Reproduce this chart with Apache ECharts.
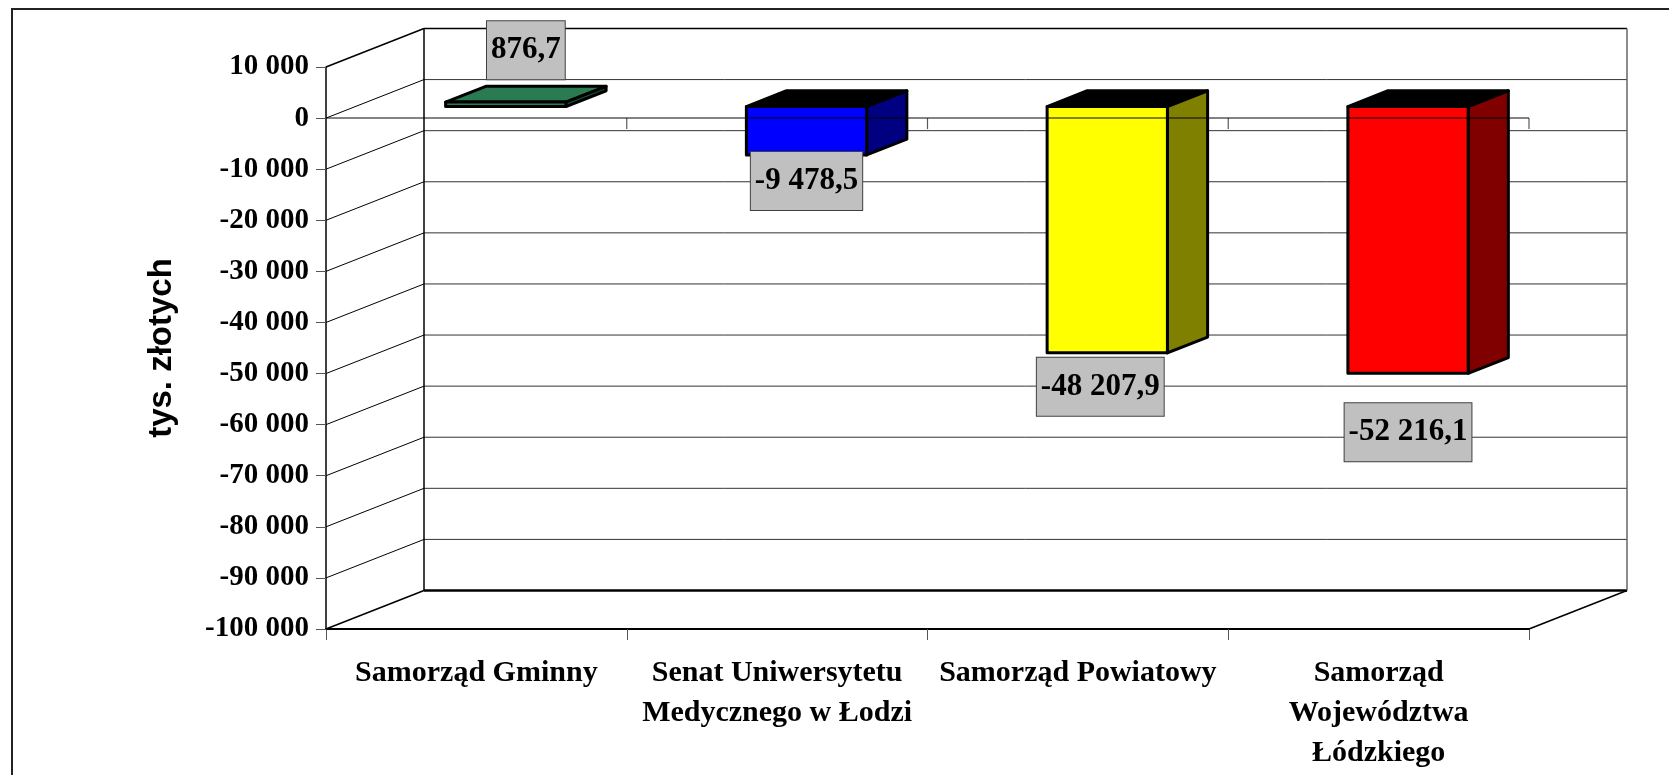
<!DOCTYPE html>
<html>
<head>
<meta charset="utf-8">
<script src="https://cdn.jsdelivr.net/npm/echarts@6/dist/echarts.min.js"></script>
<style>
html,body{margin:0;padding:0;background:#fff;}
#chart{width:1669px;height:775px;}
</style>
</head>
<body>
<div id="chart"></div>
<script>
// ---- data ----
const categories = ['Samorząd Gminny', 'Senat Uniwersytetu\nMedycznego w Łodzi', 'Samorząd Powiatowy', 'Samorząd\nWojewództwa\nŁódzkiego'];
const values = [876.7, -9478.5, -48207.9, -52216.1];
const yMin = -100000;
const yMax = 10000;
const yStep = 10000;
const axisName = 'tys. złotych';

// ---- styles ----
const frontColors = ['#2a7a52', '#0000ff', '#ffff00', '#ff0000'];
const sideColors = ['#1b5236', '#000080', '#808000', '#800000'];
const topColors = ['#2a7a52', '#000000', '#000000', '#000000'];
const labelShift = [[0, -7], [0, -3], [-7, 5], [0, 30]];
const DX = 98, DY = -38.5;      // oblique depth vector of the 3D box
const D1 = 0.3, D2 = 0.71;       // bar depth range (fraction of depth)
const serif = '"Liberation Serif", "Times New Roman", serif';

function groupInt(n) {
  return String(n).replace(/\B(?=(\d{3})+(?!\d))/g, ' ');
}
function fmtTick(v) {
  const s = v < 0 ? '-' : '';
  return s + groupInt(Math.abs(Math.round(v)));
}
function fmtVal(v) {
  const s = v < 0 ? '-' : '';
  const parts = Math.abs(v).toFixed(1).split('.');
  return s + groupInt(parts[0]) + ',' + parts[1];
}

const chart = echarts.init(document.getElementById('chart'));

function wallsRender(params, api) {
  const bw = api.size([1, 0])[0];
  const n = categories.length;
  const xL = api.coord([0, 0])[0] - bw / 2;
  const xR = api.coord([n - 1, 0])[0] + bw / 2;
  const yTop = api.coord([0, yMax])[1];
  const yBot = api.coord([0, yMin])[1];
  const children = [];
  const line = (x1, y1, x2, y2, c, w) => children.push({
    type: 'line', shape: {x1, y1, x2, y2}, style: {stroke: c, lineWidth: w}
  });
  for (let v = yMin; v <= yMax + 1e-6; v += yStep) {
    const yF = api.coord([0, v])[1];
    const edge = (v === yMin || v === yMax);
    line(xL + DX, yF + DY, xR + DX, yF + DY, edge ? '#000' : '#333', edge ? (v === yMin ? 2.5 : 1.5) : 1);
    line(xL, yF, xL + DX, yF + DY, '#000', edge ? 1.5 : 1);
  }
  // back wall edges
  line(xL + DX, yTop + DY, xL + DX, yBot + DY, '#000', 1.5);
  line(xR + DX, yTop + DY, xR + DX, yBot + DY, '#666', 1.5);
  // floor right slant
  line(xR, yBot, xR + DX, yBot + DY, '#000', 1.5);
  return {type: 'group', children};
}

function barsRender(params, api) {
  const i = api.value(0);
  const v = api.value(1);
  const bw = api.size([1, 0])[0];
  const w = bw * 0.4;
  const p0 = api.coord([i, 0]);
  const pv = api.coord([i, v]);
  const fx = p0[0] + D1 * DX;
  const y0 = p0[1] + D1 * DY;
  const yv = pv[1] + D1 * DY;
  const ddx = (D2 - D1) * DX, ddy = (D2 - D1) * DY;
  const xl = fx - w / 2, xr = fx + w / 2;
  const yT = Math.min(y0, yv), yB = Math.max(y0, yv);
  const st = (fill) => ({fill, stroke: '#000', lineWidth: 3, lineJoin: 'round'});
  const children = [
    {type: 'polygon', shape: {points: [[xl, yT], [xr, yT], [xr + ddx, yT + ddy], [xl + ddx, yT + ddy]]}, style: st(topColors[i])},
    {type: 'polygon', shape: {points: [[xr, yT], [xr + ddx, yT + ddy], [xr + ddx, yB + ddy], [xr, yB]]}, style: st(sideColors[i])},
    {type: 'polygon', shape: {points: [[xl, yT], [xr, yT], [xr, yB], [xl, yB]]}, style: st(frontColors[i])}
  ];
  const sh = labelShift[i];
  let lx, ly, va;
  if (v >= 0) {
    lx = fx + ddx / 2 + sh[0];
    ly = yT + ddy + sh[1];
    va = 'bottom';
  } else {
    lx = fx + sh[0];
    ly = yB + sh[1];
    va = 'top';
  }
  children.push({
    type: 'text',
    z2: 10,
    style: {
      text: fmtVal(v), x: lx, y: ly, align: 'center', verticalAlign: va,
      fill: '#000', font: 'bold 31px ' + serif, lineHeight: 30,
      backgroundColor: '#c0c0c0', borderColor: '#404040', borderWidth: 1,
      padding: [14, 4, 14, 4]
    }
  });
  return {type: 'group', children};
}

function zeroAxisRender(params, api) {
  const bw = api.size([1, 0])[0];
  const n = categories.length;
  const xL = api.coord([0, 0])[0] - bw / 2;
  const y = api.coord([0, 0])[1];
  const children = [{
    type: 'line', shape: {x1: xL, y1: y, x2: xL + n * bw, y2: y},
    style: {stroke: 'rgba(0,0,0,0.65)', lineWidth: 1.5}
  }];
  for (let k = 1; k <= n; k++) {
    children.push({
      type: 'line', shape: {x1: xL + k * bw, y1: y, x2: xL + k * bw, y2: y + 11},
      style: {stroke: 'rgba(0,0,0,0.65)', lineWidth: 1.2}
    });
  }
  return {type: 'group', children};
}

const option = {
  animation: false,
  backgroundColor: '#fff',
  graphic: [{
    type: 'rect', shape: {x: 12, y: 9, width: 1680, height: 800},
    style: {fill: 'none', stroke: '#222', lineWidth: 2}, z: 0
  }],
  grid: {left: 326, right: 140, top: 67, bottom: 146, containLabel: false},
  xAxis: {
    type: 'category',
    data: categories,
    boundaryGap: true,
    axisLine: {onZero: false, lineStyle: {color: '#000', width: 2}},
    axisTick: {show: true, length: 11, lineStyle: {color: '#555', width: 1}},
    axisLabel: {
      interval: 0, margin: 24, color: '#000', fontFamily: serif,
      fontWeight: 'bold', fontSize: 30, lineHeight: 40, align: 'center'
    },
    splitLine: {show: false}
  },
  yAxis: {
    type: 'value',
    min: yMin, max: yMax, interval: yStep,
    name: axisName,
    nameLocation: 'middle',
    nameGap: 148,
    nameTextStyle: {fontFamily: '"Liberation Sans", Arial, sans-serif', fontWeight: 'bold', fontSize: 33, color: '#000'},
    axisLine: {show: true, lineStyle: {color: '#000', width: 1.5}},
    axisTick: {show: true, length: 10, lineStyle: {color: '#555'}},
    axisLabel: {
      margin: 17, color: '#000', fontFamily: serif, fontWeight: 'bold', fontSize: 29,
      formatter: fmtTick
    },
    splitLine: {show: false}
  },
  series: [
    {type: 'custom', coordinateSystem: 'cartesian2d', renderItem: wallsRender, data: [[0, 0]], z: 1, clip: false, silent: true},
    {type: 'custom', coordinateSystem: 'cartesian2d', renderItem: barsRender,
      data: values.map((v, i) => [i, v]), z: 2, clip: false, silent: true},
    {type: 'custom', coordinateSystem: 'cartesian2d', renderItem: zeroAxisRender, data: [[0, 0]], z: 3, clip: false, silent: true}
  ]
};
chart.setOption(option);
</script>
</body>
</html>
